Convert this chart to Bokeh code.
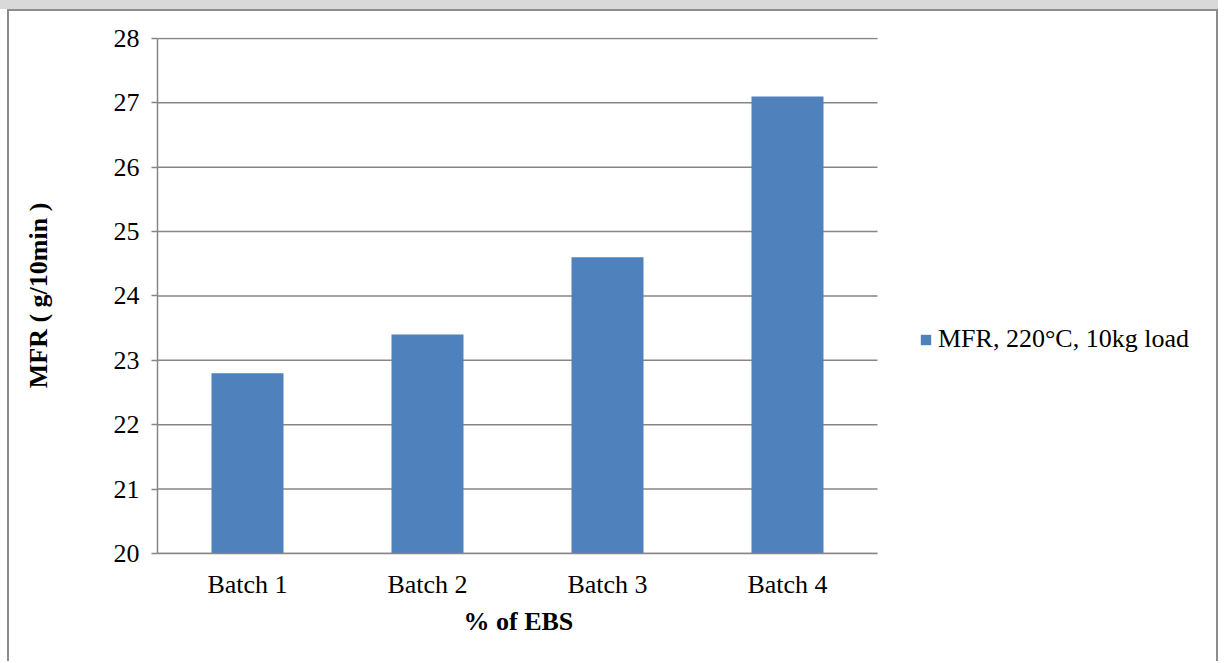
from bokeh.plotting import figure
from bokeh.layouts import column
from bokeh.models import (ColumnDataSource, Legend, LegendItem, FixedTicker,
                          Title)
from bokeh.embed import file_html
from bokeh.resources import INLINE

# Melt flow rate per batch
batches = ["Batch 1", "Batch 2", "Batch 3", "Batch 4"]
mfr = [22.8, 23.4, 24.6, 27.1]
series_name = "MFR, 220°C, 10kg load"
y_ticks = [20, 21, 22, 23, 24, 25, 26, 27, 28]

FONT = "Liberation Serif"
GREY = "#868686"
BAR = "#4f81bd"

# each batch occupies one unit slot on the x axis, bar in its middle
n = len(batches)
slot_centers = [i + 0.5 for i in range(n)]
src = ColumnDataSource(dict(x=slot_centers, batch=batches, mfr=mfr))

# the plot frame runs on to the right so that the legend sits beside the
# category slots; axis and grid lines are limited to the slots themselves
p = figure(width=1211, height=652, x_range=(0, 5.9056),
           y_range=(20, 28.015), output_backend="svg", toolbar_location=None,
           min_border_left=148, min_border_right=0,
           min_border_top=26, min_border_bottom=110)
p.background_fill_color = "white"
p.border_fill_color = "white"
p.outline_line_color = None
p.styles = {"border-left": "2px solid #8c8c8c",
            "border-top": "2px solid #8c8c8c",
            "border-right": "2px solid #8c8c8c"}

# horizontal grid lines across the category slots only
p.segment(x0=0, x1=n, y0=y_ticks, y1=y_ticks, line_color=GREY,
          line_width=1.5)

bars = p.vbar(x="x", top="mfr", bottom=20, width=0.4, source=src,
              fill_color=BAR, line_color=None)

# axes
p.xaxis.ticker = FixedTicker(ticks=slot_centers)
p.xaxis.major_label_overrides = dict(zip(slot_centers, batches))
p.xaxis.bounds = (0, n)
p.xaxis.major_tick_line_color = None
p.xaxis.minor_tick_line_color = None
p.xaxis.major_label_standoff = 10

p.yaxis.ticker = FixedTicker(ticks=y_ticks)
p.yaxis.bounds = (y_ticks[0], y_ticks[-1])
p.yaxis.major_tick_out = 6
p.yaxis.major_tick_in = 0
p.yaxis.minor_tick_line_color = None
p.yaxis.major_tick_line_color = GREY
p.yaxis.major_label_standoff = 12

for ax in (p.xaxis, p.yaxis):
    ax.axis_line_color = GREY
    ax.axis_line_width = 1.5
    ax.major_tick_line_width = 1.5
    ax.major_label_text_font = FONT
    ax.major_label_text_font_size = "26px"
    ax.major_label_text_color = "black"
    ax.axis_label_text_font = FONT
    ax.axis_label_text_font_style = "bold"
    ax.axis_label_text_font_size = "26px"
    ax.axis_label_text_color = "black"

p.yaxis.axis_label = "MFR ( g/10min )"
p.yaxis.axis_label_standoff = 58

p.xgrid.grid_line_color = None
p.ygrid.grid_line_color = None

# x-axis title, centred under the category slots
p.add_layout(Title(text="% of EBS", align="left", offset=306, standoff=7,
                   text_font=FONT, text_font_style="bold",
                   text_font_size="26px", text_color="black"), "below")

# legend to the right of the category slots
legend = Legend(items=[LegendItem(label=series_name, renderers=[bars])],
                location=(762, 199), glyph_width=13, glyph_height=13,
                label_standoff=6, padding=0, margin=0, spacing=0,
                label_text_font=FONT, label_text_font_size="26px",
                label_text_color="black", border_line_color=None,
                background_fill_alpha=0)
p.add_layout(legend, "center")

# page with a grey strip along the top edge
page = column(p, styles={
    "padding": "9px 0 0 7px",
    "background": "linear-gradient(to bottom, #d9d9d9 0px, #d9d9d9 9px, "
                  "white 9px, white 100%)"})

open("out.html", "w").write(file_html(page, INLINE))
